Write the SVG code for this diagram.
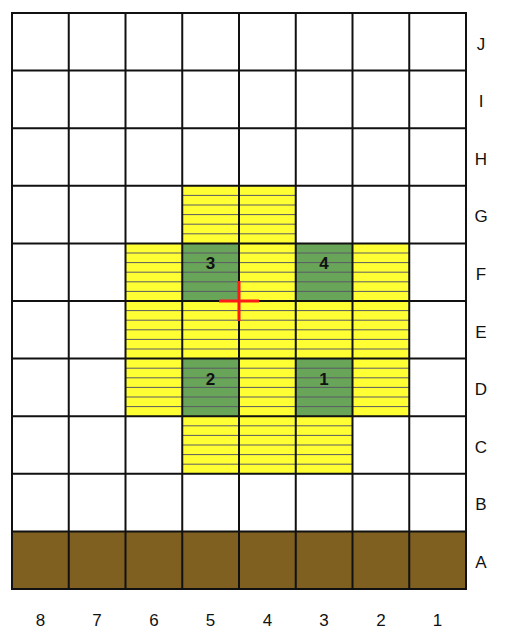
<svg xmlns="http://www.w3.org/2000/svg" width="515" height="644" viewBox="0 0 515 644">
<style>
.y{fill:#ffff33}
.g{fill:#68a558}
.b{fill:#7f6020}
.h{stroke:#5a5a66;stroke-width:1;fill:none}
.grid{stroke:#111;stroke-width:2;fill:none}
.num{font-family:"Liberation Sans",Arial,sans-serif;font-size:17px;font-weight:bold;fill:#111;text-anchor:middle}
.lab{font-family:"Liberation Sans",Arial,sans-serif;font-size:17px;fill:#111;text-anchor:middle}
.cross{stroke:#ff1a1a;stroke-width:3;fill:none}
</style>
<rect width="515" height="644" fill="#fff"/>
<g id="fills">
<rect class="b" x="12" y="531.4" width="454" height="57.6"/>
<rect class="y" x="182.25" y="185.8" width="113.5" height="57.6"/>
<rect class="y" x="125.5" y="243.4" width="283.75" height="172.8"/>
<rect class="y" x="182.25" y="416.2" width="170.25" height="57.6"/>
<rect class="g" x="182.25" y="243.4" width="56.75" height="57.6"/>
<rect class="g" x="295.75" y="243.4" width="56.75" height="57.6"/>
<rect class="g" x="182.25" y="358.6" width="56.75" height="57.6"/>
<rect class="g" x="295.75" y="358.6" width="56.75" height="57.6"/>
</g>
<g id="hatch">
<path class="h" d="M182.25 195.4H295.75M182.25 205H295.75M182.25 214.6H295.75M182.25 224.2H295.75M182.25 233.8H295.75"/>
<path class="h" d="M125.5 253H409.25M125.5 262.6H409.25M125.5 272.2H409.25M125.5 281.8H409.25M125.5 291.4H409.25"/>
<path class="h" d="M125.5 310.6H409.25M125.5 320.2H409.25M125.5 329.8H409.25M125.5 339.4H409.25M125.5 349H409.25"/>
<path class="h" d="M125.5 368.2H409.25M125.5 377.8H409.25M125.5 387.4H409.25M125.5 397H409.25M125.5 406.6H409.25"/>
<path class="h" d="M182.25 425.8H352.5M182.25 435.4H352.5M182.25 445H352.5M182.25 454.6H352.5M182.25 464.2H352.5"/>
</g>
<g id="grid">
<rect class="grid" x="12" y="13" width="454" height="576"/>
<path class="grid" d="M68.75 13V589M125.5 13V589M182.25 13V589M239 13V589M295.75 13V589M352.5 13V589M409.25 13V589"/>
<path class="grid" d="M12 70.6H466M12 128.2H466M12 185.8H466M12 243.4H466M12 301H466M12 358.6H466M12 416.2H466M12 473.8H466M12 531.4H466"/>
</g>
<g id="numbers">
<text class="num" x="210.6" y="269.3">3</text>
<text class="num" x="324.1" y="269.3">4</text>
<text class="num" x="210.6" y="384.5">2</text>
<text class="num" x="324.1" y="384.5">1</text>
</g>
<g id="cross">
<path class="cross" d="M219 301H259M239 281V321"/>
</g>
<g id="row-labels">
<text class="lab" x="481" y="49.5">J</text>
<text class="lab" x="481" y="107.1">I</text>
<text class="lab" x="481" y="164.7">H</text>
<text class="lab" x="481" y="222.3">G</text>
<text class="lab" x="481" y="279.9">F</text>
<text class="lab" x="481" y="337.5">E</text>
<text class="lab" x="481" y="395.1">D</text>
<text class="lab" x="481" y="452.7">C</text>
<text class="lab" x="481" y="510.3">B</text>
<text class="lab" x="481" y="567.9">A</text>
</g>
<g id="col-labels">
<text class="lab" x="40.4" y="626">8</text>
<text class="lab" x="97.1" y="626">7</text>
<text class="lab" x="153.9" y="626">6</text>
<text class="lab" x="210.6" y="626">5</text>
<text class="lab" x="267.4" y="626">4</text>
<text class="lab" x="324.1" y="626">3</text>
<text class="lab" x="380.9" y="626">2</text>
<text class="lab" x="437.6" y="626">1</text>
</g>
</svg>
